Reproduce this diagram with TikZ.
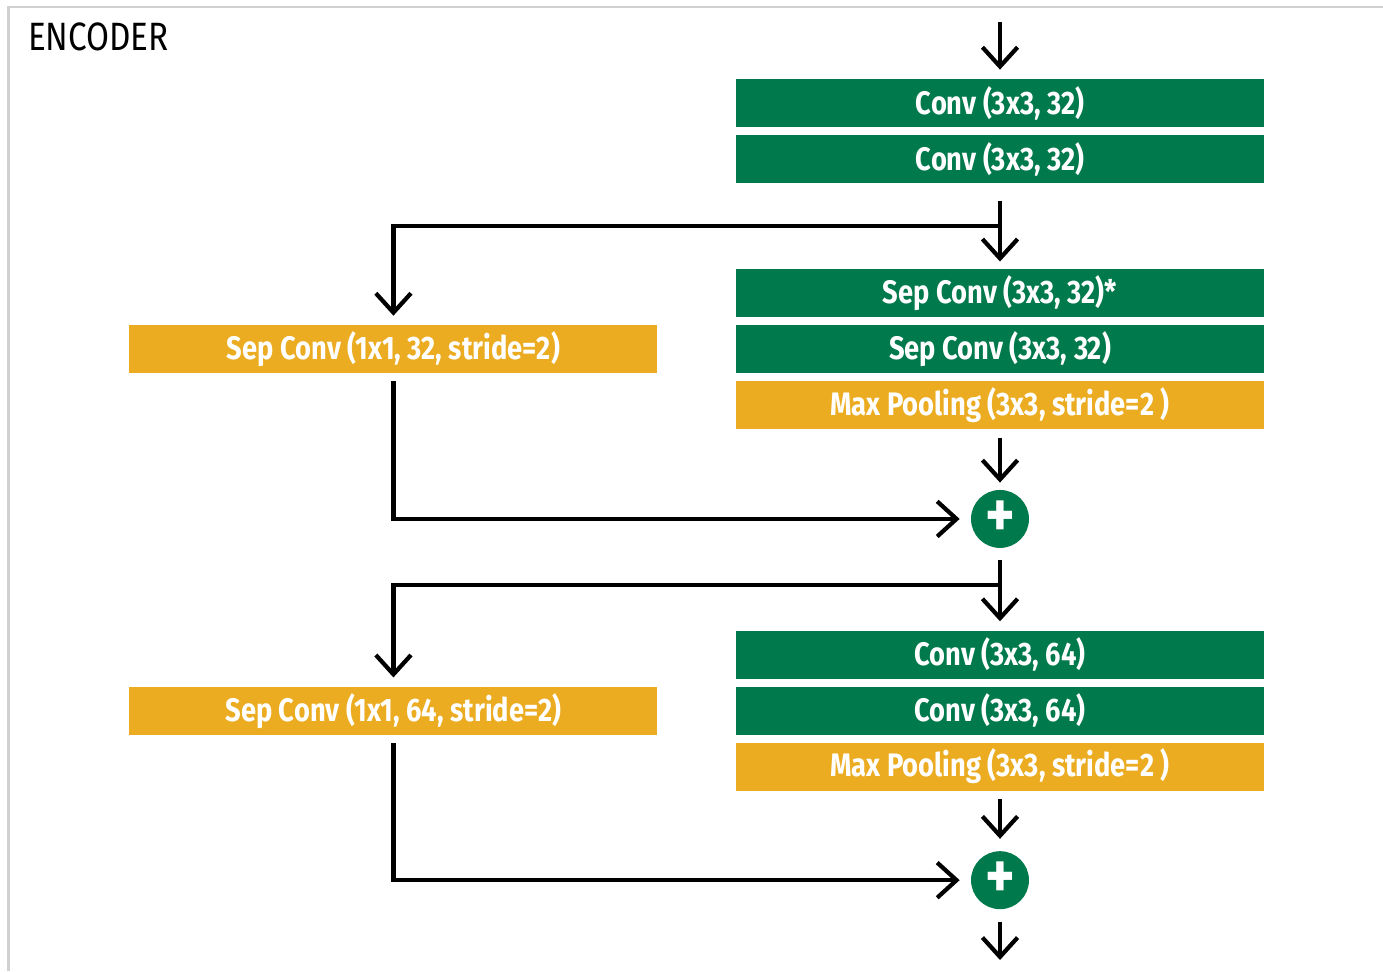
\documentclass[tikz,border=0pt]{standalone}
\usepackage{fontspec}
\setmainfont{Fira Sans}[FakeStretch=0.84]
\usetikzlibrary{positioning,arrows.meta,calc}
\definecolor{netgreen}{RGB}{0,122,77}
\definecolor{netorange}{RGB}{236,172,34}
\tikzset{
  >={Straight Barb[length=11pt,width=20pt]},
  layer/.style={
    fill           = netgreen,
    text           = white,
    minimum width  = 10.56cm,
    minimum height = 0.96cm,
    inner sep      = 0pt,
    font           = \bfseries\fontsize{18.5}{21}\selectfont},
  pool/.style={
    layer,
    fill = netorange},
  add/.style={
    circle,
    fill         = netgreen,
    text         = white,
    minimum size = 1.16cm,
    inner sep    = 0pt,
    font         = \bfseries\fontsize{38}{40}\selectfont},
  link/.style={
    ->,
    line width = 2.4pt}
}

\begin{document}
\begin{tikzpicture}[x=0.02cm, y=-0.02cm]

\useasboundingbox (0,0) rectangle (1383,971);
\draw[black!18, line width=1.7pt] (8.5,971) -- (8.5,7) -- (1383,7);

\node[anchor=base west, font=\fontsize{22.5}{28}\selectfont] (title) at (22,50) {ENCODER};

% main column
\node[layer] (conv1) at (1000,103) {Conv (3x3, 32)};
\node[layer, below = 0.15cm of conv1] (conv2) {Conv (3x3, 32)};

\node[layer, below = 1.70cm of conv2] (sepa) {Sep Conv (3x3, 32)*};
\node[layer, below = 0.15cm of sepa]  (sepb) {Sep Conv (3x3, 32)};
\node[pool,  below = 0.15cm of sepb]  (pool1) {Max Pooling (3x3, stride=2 )};
\node[add,   below = 1.20cm of pool1] (add1) {+};

\node[layer, below = 1.64cm of add1]  (conv3) {Conv (3x3, 64)};
\node[layer, below = 0.15cm of conv3] (conv4) {Conv (3x3, 64)};
\node[pool,  below = 0.14cm of conv4] (pool2) {Max Pooling (3x3, stride=2 )};
\node[add,   below = 1.20cm of pool2] (add2) {+};

% residual branches
\node[pool, left = 1.56cm of sepb]  (skip1) {Sep Conv (1x1, 32, stride=2)};
\node[pool, left = 1.56cm of conv4] (skip2) {Sep Conv (1x1, 64, stride=2)};

\coordinate (in)  at (1000,22);
\coordinate (out) at (1000,960);
\coordinate (split1) at ($(conv2.south)!0.5!(sepa.north)$);
\coordinate (split2) at ($(add1.south)!0.45!(conv3.north)$);

\draw[link, shorten >=0.18cm] (in) -- (conv1);
\draw[link, shorten <=0.34cm, shorten >=0.14cm] (conv2) -- (sepa);
\draw[link, shorten >=0.18cm] (split1) -| (skip1.north);
\draw[link, shorten <=0.16cm, shorten >=0.22cm] (skip1.south) |- (add1.west);
\draw[link, shorten <=0.16cm, shorten >=0.14cm] (pool1) -- (add1);

\draw[link, shorten <=0.24cm, shorten >=0.18cm] (add1) -- (conv3);
\draw[link, shorten >=0.18cm] (split2) -| (skip2.north);
\draw[link, shorten <=0.16cm, shorten >=0.22cm] (skip2.south) |- (add2.west);
\draw[link, shorten <=0.16cm, shorten >=0.24cm] (pool2) -- (add2);
\draw[link, shorten <=0.24cm] (add2) -- (out);

\end{tikzpicture}
\end{document}
